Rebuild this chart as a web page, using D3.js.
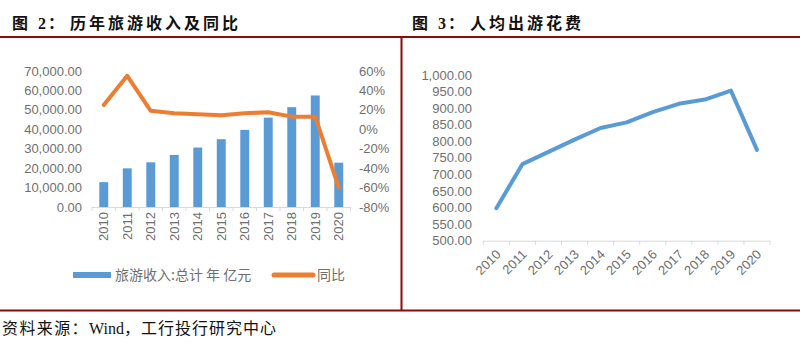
<!DOCTYPE html>
<html lang="zh">
<head>
    <meta charset="utf-8"/>
    <title>旅游收入及人均出游花费</title>
    <script src="https://d3js.org/d3.v7.min.js"></script>
    <style>
        body { margin: 0; background: #fff; }
        .num { font-family: "Liberation Sans", Arial, sans-serif; font-size: 13px; fill: #6f6f6f; }
        .cjk { font-family: "Noto Sans CJK SC", sans-serif; }
    </style>
</head>
<body>
<svg width="800" height="351"></svg>

<script type="text/javascript">

    // datos
    const years = ["2010", "2011", "2012", "2013", "2014", "2015", "2016", "2017", "2018", "2019", "2020"];
    const revenue = [12800, 19900, 23000, 26800, 30600, 34900, 39700, 46000, 51400, 57400, 22800];
    const yoy = [25, 55, 19, 16.5, 15.5, 14.5, 16.5, 17.5, 13, 13, -60];
    const perCapita = [598, 731, 768, 805, 840, 857, 888, 913, 926, 953, 774];

    const revenueTicks = [0, 10000, 20000, 30000, 40000, 50000, 60000, 70000];
    const yoyTicks = [-80, -60, -40, -20, 0, 20, 40, 60];
    const perCapitaTicks = [500, 550, 600, 650, 700, 750, 800, 850, 900, 950, 1000];

    const legendLabels = ["旅游收入:总计 年 亿元", "同比"];

    const blue = "#5b9bd5", orange = "#ed7d31", red = "#8b0a0a", gridGray = "#d9d9d9";
    const fmt = d3.format(",.2f");

    const svg = d3.select("svg");

    // marco: titulos, lineas rojas y fuente
    function titulo(x, num, texto) {
        const t = svg.append("text").attr("class", "cjk").attr("y", 29)
            .style("font-size", "16px").style("font-weight", "bold").attr("fill", "#111");
        t.append("tspan").attr("x", x).text("图");
        t.append("tspan").attr("x", x + 26).style("font-family", "Liberation Serif").text(num);
        t.append("tspan").attr("x", x + 36).text("：");
        t.append("tspan").attr("x", x + 58).style("letter-spacing", "3px").text(texto);
    }
    titulo(12, "2", "历年旅游收入及同比");
    titulo(412, "3", "人均出游花费");

    svg.append("line").attr("x1", 0).attr("x2", 800).attr("y1", 37).attr("y2", 37)
        .attr("stroke", red).attr("stroke-width", 2);
    svg.append("line").attr("x1", 0).attr("x2", 800).attr("y1", 310.5).attr("y2", 310.5)
        .attr("stroke", red).attr("stroke-width", 2);
    svg.append("line").attr("x1", 401.5).attr("x2", 401.5).attr("y1", 37).attr("y2", 311)
        .attr("stroke", red).attr("stroke-width", 2);

    const foot = svg.append("text").attr("x", 2).attr("y", 334)
        .style("font-size", "16px").attr("fill", "#111");
    foot.append("tspan").attr("class", "cjk").style("letter-spacing", "1.4px").text("资料来源：");
    foot.append("tspan").style("font-family", "Liberation Serif").text("Wind");
    foot.append("tspan").attr("class", "cjk").style("letter-spacing", "1px").text("，工行投行研究中心");

    /*
    * grafico izquierdo: barras + linea
    */
    let x1 = d3.scaleBand().domain(years).range([92, 350.5]).paddingInner(0.62).paddingOuter(0.31);
    let yL = d3.scaleLinear().domain([0, 70000]).range([207, 71]);
    let yR = d3.scaleLinear().domain([-80, 60]).range([207, 71]);

    const g1 = svg.append("g");

    g1.selectAll("rect.bar")
        .data(years).enter()
        .append("rect")
        .attr("class", "bar")
        .attr("x", d => x1(d))
        .attr("width", x1.bandwidth())
        .attr("y", (d, i) => yL(revenue[i]))
        .attr("height", (d, i) => yL(0) - yL(revenue[i]))
        .attr("fill", blue);

    // eje x con ticks entre categorias
    g1.append("line").attr("x1", 92).attr("x2", 350.5).attr("y1", yL(0) + 0.5).attr("y2", yL(0) + 0.5)
        .attr("stroke", gridGray);
    g1.selectAll("line.tk")
        .data(d3.range(years.length + 1)).enter()
        .append("line").attr("class", "tk")
        .attr("x1", i => 92 + i * x1.step()).attr("x2", i => 92 + i * x1.step())
        .attr("y1", yL(0)).attr("y2", yL(0) + 4)
        .attr("stroke", gridGray);

    g1.selectAll("text.yr")
        .data(years).enter()
        .append("text").attr("class", "num yr")
        .attr("text-anchor", "end").attr("dy", "0.35em")
        .attr("transform", d => "translate(" + (x1(d) + x1.bandwidth() / 2) + ",212) rotate(-90)")
        .text(d => d);

    g1.selectAll("text.yl")
        .data(revenueTicks).enter()
        .append("text").attr("class", "num yl")
        .attr("x", 82).attr("y", d => yL(d)).attr("dy", "0.35em")
        .attr("text-anchor", "end")
        .text(d => fmt(d));

    g1.selectAll("text.yrr")
        .data(yoyTicks).enter()
        .append("text").attr("class", "num yrr")
        .attr("x", 359).attr("y", d => yR(d)).attr("dy", "0.35em")
        .text(d => d + "%");

    let yoyLine = d3.line()
        .x((d, i) => x1(years[i]) + x1.bandwidth() / 2)
        .y(d => yR(d));

    g1.append("path")
        .attr("d", yoyLine(yoy))
        .attr("fill", "none")
        .attr("stroke", orange)
        .attr("stroke-width", 4)
        .attr("stroke-linejoin", "round")
        .attr("stroke-linecap", "round");

    // leyenda
    const lg = svg.append("g").attr("transform", "translate(0,275)");
    lg.append("rect").attr("x", 73).attr("y", -3).attr("width", 38).attr("height", 6).attr("fill", blue);
    lg.append("text").attr("class", "cjk").attr("x", 115).attr("dy", "0.35em")
        .style("font-size", "14px").attr("fill", "#6f6f6f").text(legendLabels[0]);
    lg.append("line").attr("x1", 274).attr("x2", 313).attr("y1", 0).attr("y2", 0)
        .attr("stroke", orange).attr("stroke-width", 5).attr("stroke-linecap", "round");
    lg.append("text").attr("class", "cjk").attr("x", 317).attr("dy", "0.35em")
        .style("font-size", "14px").attr("fill", "#6f6f6f").text(legendLabels[1]);

    /*
    * grafico derecho: linea
    */
    let x2 = d3.scaleBand().domain(years).range([483.3, 770]);
    let y2 = d3.scaleLinear().domain([500, 1000]).range([240.7, 75]);

    const g2 = svg.append("g");

    g2.append("line").attr("x1", 483.3).attr("x2", 770).attr("y1", y2(500) + 0.5).attr("y2", y2(500) + 0.5)
        .attr("stroke", gridGray);
    g2.selectAll("line.tk")
        .data(d3.range(years.length + 1)).enter()
        .append("line").attr("class", "tk")
        .attr("x1", i => 483.3 + i * x2.step()).attr("x2", i => 483.3 + i * x2.step())
        .attr("y1", y2(500)).attr("y2", y2(500) + 4)
        .attr("stroke", gridGray);

    g2.selectAll("text.yr")
        .data(years).enter()
        .append("text").attr("class", "num yr")
        .attr("text-anchor", "end").attr("dy", "0.35em")
        .attr("transform", d => "translate(" + (x2(d) + x2.bandwidth() / 2 + 2) + ",252) rotate(-45)")
        .text(d => d);

    g2.selectAll("text.yl")
        .data(perCapitaTicks).enter()
        .append("text").attr("class", "num yl")
        .attr("x", 472).attr("y", d => y2(d)).attr("dy", "0.35em")
        .attr("text-anchor", "end")
        .text(d => fmt(d));

    let pcLine = d3.line()
        .x((d, i) => x2(years[i]) + x2.bandwidth() / 2)
        .y(d => y2(d));

    g2.append("path")
        .attr("d", pcLine(perCapita))
        .attr("fill", "none")
        .attr("stroke", blue)
        .attr("stroke-width", 4)
        .attr("stroke-linejoin", "round")
        .attr("stroke-linecap", "round");

</script>
</body>
</html>
